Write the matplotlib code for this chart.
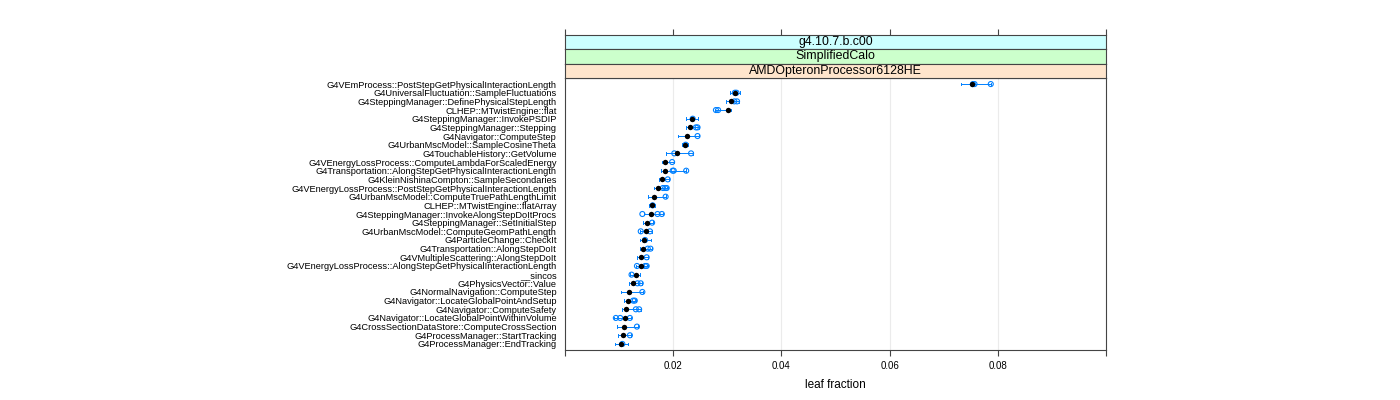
import matplotlib
matplotlib.use("Agg")
import matplotlib.pyplot as plt

plt.rcParams['font.family'] = ['Liberation Sans', 'DejaVu Sans']

functions = [
    "G4VEmProcess::PostStepGetPhysicalInteractionLength",
    "G4UniversalFluctuation::SampleFluctuations",
    "G4SteppingManager::DefinePhysicalStepLength",
    "CLHEP::MTwistEngine::flat",
    "G4SteppingManager::InvokePSDIP",
    "G4SteppingManager::Stepping",
    "G4Navigator::ComputeStep",
    "G4UrbanMscModel::SampleCosineTheta",
    "G4TouchableHistory::GetVolume",
    "G4VEnergyLossProcess::ComputeLambdaForScaledEnergy",
    "G4Transportation::AlongStepGetPhysicalInteractionLength",
    "G4KleinNishinaCompton::SampleSecondaries",
    "G4VEnergyLossProcess::PostStepGetPhysicalInteractionLength",
    "G4UrbanMscModel::ComputeTruePathLengthLimit",
    "CLHEP::MTwistEngine::flatArray",
    "G4SteppingManager::InvokeAlongStepDoItProcs",
    "G4SteppingManager::SetInitialStep",
    "G4UrbanMscModel::ComputeGeomPathLength",
    "G4ParticleChange::CheckIt",
    "G4Transportation::AlongStepDoIt",
    "G4VMultipleScattering::AlongStepDoIt",
    "G4VEnergyLossProcess::AlongStepGetPhysicalInteractionLength",
    "__sincos",
    "G4PhysicsVector::Value",
    "G4NormalNavigation::ComputeStep",
    "G4Navigator::LocateGlobalPointAndSetup",
    "G4Navigator::ComputeSafety",
    "G4Navigator::LocateGlobalPointWithinVolume",
    "G4CrossSectionDataStore::ComputeCrossSection",
    "G4ProcessManager::StartTracking",
    "G4ProcessManager::EndTracking",
]

# black dot: combined leaf fraction
center = [0.0752, 0.0314, 0.0307, 0.0301, 0.0234, 0.0231, 0.0226, 0.0222, 0.0207,
          0.0185, 0.0184, 0.0180, 0.0171, 0.0165, 0.0161, 0.0159, 0.0152, 0.0150,
          0.0146, 0.0145, 0.0140, 0.0140, 0.0131, 0.0126, 0.0119, 0.0117, 0.0113,
          0.0110, 0.0109, 0.0107, 0.0104]
# blue whisker range
low = [0.0732, 0.0305, 0.0298, 0.0278, 0.0224, 0.0224, 0.0209, 0.0216, 0.0186,
       0.0180, 0.0178, 0.0174, 0.0165, 0.0153, 0.0155, 0.0146, 0.0144, 0.0139,
       0.0139, 0.0139, 0.0133, 0.0131, 0.0120, 0.0118, 0.0103, 0.0109, 0.0105,
       0.0091, 0.0096, 0.0098, 0.0092]
high = [0.0787, 0.0324, 0.0322, 0.0306, 0.0246, 0.0248, 0.0248, 0.0228, 0.0236,
        0.0201, 0.0224, 0.0193, 0.0191, 0.0186, 0.0167, 0.0181, 0.0163, 0.0161,
        0.0159, 0.0161, 0.0154, 0.0154, 0.0138, 0.0143, 0.0145, 0.0132, 0.0140,
        0.0122, 0.0135, 0.0122, 0.0116]
# blue open circles: individual runs
runs = [
    [0.0754, 0.0757, 0.0787],
    [0.0314, 0.0317],
    [0.0313, 0.0318],
    [0.0279, 0.0283],
    [0.0236],
    [0.0242, 0.0245],
    [0.0245],
    [0.0223],
    [0.0202, 0.0233],
    [0.0198],
    [0.0199, 0.0201, 0.0224],
    [0.0190],
    [0.0181, 0.0185, 0.0188],
    [0.0186],
    [0.0162],
    [0.0143, 0.0171, 0.0179],
    [0.0161],
    [0.0140, 0.0157],
    [0.0148],
    [0.0153, 0.0158],
    [0.0151],
    [0.0133, 0.0148, 0.0151],
    [0.0123],
    [0.0134, 0.0140],
    [0.0143],
    [0.0126, 0.0129],
    [0.0131, 0.0137],
    [0.0094, 0.0102, 0.0120],
    [0.0133],
    [0.0120],
    [0.0106],
]

strip_labels = ["g4.10.7.b.c00", "SimplifiedCalo", "AMDOpteronProcessor6128HE"]
strip_colors = ["#ccffff", "#ccffcc", "#ffe5cc"]
xticks = [0.02, 0.04, 0.06, 0.08]

W, H = 1400, 400
fig = plt.figure(figsize=(W / 100, H / 100), dpi=100)

px_l, px_r = 565, 1106
px_top, px_bot = 78, 350
ax = fig.add_axes([px_l / W, 1 - px_bot / H, (px_r - px_l) / W, (px_bot - px_top) / H])

blue = "#0080ff"
n = len(functions)
for i in range(n):
    y = n - 1 - i
    ax.plot([low[i], high[i]], [y, y], color=blue, lw=0.7, zorder=2)
    ax.plot([low[i], low[i]], [y - 0.15, y + 0.15], color=blue, lw=0.7, zorder=2)
    ax.plot([high[i], high[i]], [y - 0.15, y + 0.15], color=blue, lw=0.7, zorder=2)
    ax.scatter(runs[i], [y] * len(runs[i]), s=13, facecolors="none",
               edgecolors=blue, linewidths=0.8, zorder=3)
    ax.scatter([center[i]], [y], s=15, color="black", linewidths=0, zorder=4)

ax.set_xlim(0.0, 0.1)
ax.set_ylim(-0.7, n - 0.3)
for xv in xticks:
    ax.axvline(xv, color="#ebebeb", lw=0.8, zorder=0)
ax.set_yticks([n - 1 - i for i in range(n)])
ax.set_yticklabels(functions, fontsize=6.7)
ax.tick_params(axis="y", length=0, pad=6)
ax.set_xticks([0.0] + xticks + [0.1])
ax.set_xticklabels([""] + [f"{v:.2f}" for v in xticks] + [""], fontsize=7)
ax.tick_params(axis="x", direction="out", length=4, width=0.8, color="#444444", pad=4)
ax.set_xlabel("leaf fraction", fontsize=8.5, labelpad=6)
for s in ax.spines.values():
    s.set_color("#444444")
    s.set_linewidth(0.8)

# strips
strip_top = 35
sh = (px_top - strip_top) / 3.0
for k, (lab, col) in enumerate(zip(strip_labels, strip_colors)):
    y0 = strip_top + k * sh
    sax = fig.add_axes([px_l / W, 1 - (y0 + sh) / H, (px_r - px_l) / W, sh / H])
    sax.set_facecolor(col)
    sax.set_xlim(0.0, 0.1)
    sax.set_ylim(0, 1)
    sax.set_yticks([])
    if k == 0:
        sax.xaxis.tick_top()
        sax.set_xticks([0.0] + xticks + [0.1])
        sax.set_xticklabels([])
        sax.tick_params(axis="x", direction="out", length=4, width=0.8, color="#444444")
    else:
        sax.set_xticks([])
    sax.text(0.05, 0.5, lab, ha="center", va="center", fontsize=8.9)
    for s in sax.spines.values():
        s.set_color("#444444")
        s.set_linewidth(0.8)

fig.savefig("out.png", dpi=100)
